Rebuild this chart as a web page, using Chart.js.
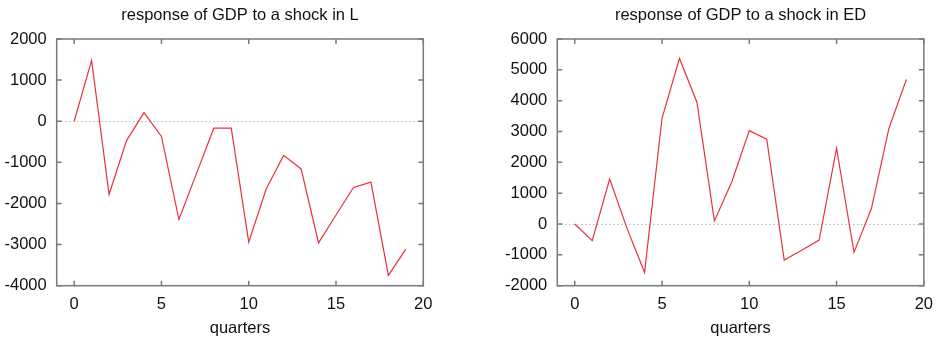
<!DOCTYPE html>
<html>
<head>
<meta charset="utf-8">
<script src="https://cdn.jsdelivr.net/npm/chart.js@4/dist/chart.umd.min.js"></script>
<style>
  html, body { margin: 0; padding: 0; background: #fff; overflow: hidden; }
  #c1 { position: absolute; left: 0; top: 0; }
  #c2 { position: absolute; left: 470px; top: 0; }
</style>
</head>
<body>
<canvas id="c1" width="470" height="339"></canvas>
<canvas id="c2" width="472" height="339"></canvas>
<script>
// ---- data ----
const quarters = [0,1,2,3,4,5,6,7,8,9,10,11,12,13,14,15,16,17,18,19];
const responseL = [0,1480,-1780,-470,210,-370,-2390,-1280,-170,-170,-2940,-1650,-830,-1160,-2960,-2280,-1610,-1480,-3750,-3110];
const responseED = [0,-540,1460,-150,-1570,3430,5370,3950,100,1370,3030,2750,-1170,-850,-520,2450,-920,510,3100,4690];
const xTicks = [0,5,10,15,20];
const yTicksL = [-4000,-3000,-2000,-1000,0,1000,2000];
const yTicksED = [-2000,-1000,0,1000,2000,3000,4000,5000,6000];
const titleL = 'response of GDP to a shock in L';
const titleED = 'response of GDP to a shock in ED';
const xTitle = 'quarters';

const FONT = "'Liberation Sans', Arial, Helvetica, sans-serif";
const FS = 16.5;
const FRAME = '#7a7a7a';
const RED = '#e8323c';

const framePlugin = {
  id: 'frame',
  afterDatasetsDraw(chart) {
    const {ctx, chartArea: a, scales} = chart;
    ctx.save();
    ctx.strokeStyle = FRAME;
    ctx.lineWidth = 1.5;
    const tl = 5;
    ctx.beginPath();
    scales.x.ticks.forEach(t => {
      const px = scales.x.getPixelForValue(t.value);
      ctx.moveTo(px, a.bottom); ctx.lineTo(px, a.bottom - tl);
      ctx.moveTo(px, a.top); ctx.lineTo(px, a.top + tl);
    });
    scales.y.ticks.forEach(t => {
      const py = scales.y.getPixelForValue(t.value);
      ctx.moveTo(a.left, py); ctx.lineTo(a.left + tl, py);
      ctx.moveTo(a.right, py); ctx.lineTo(a.right - tl, py);
    });
    ctx.stroke();
    ctx.strokeRect(a.left, a.top, a.right - a.left, a.bottom - a.top);
    ctx.restore();
  }
};

function makeChart(id, values, yTicks, title, yWidth, padRight) {
  new Chart(document.getElementById(id), {
    type: 'line',
    data: {
      datasets: [{
        data: quarters.map((q, i) => ({x: q, y: values[i]})),
        borderColor: RED,
        borderWidth: 1.2,
        pointRadius: 0,
        tension: 0,
        fill: false
      }]
    },
    options: {
      responsive: false,
      animation: false,
      layout: { padding: { left: 0, right: padRight, top: 0, bottom: 0 } },
      plugins: {
        legend: { display: false },
        tooltip: { enabled: false },
        title: {
          display: true,
          text: title,
          fullSize: false,
          color: '#111',
          font: { family: FONT, size: FS, weight: 'normal', lineHeight: 1.2 },
          padding: { top: 5.6, bottom: 13.6 }
        }
      },
      scales: {
        x: {
          type: 'linear',
          min: -1,
          max: 20,
          afterBuildTicks: s => { s.ticks = xTicks.map(v => ({value: v})); },
          afterFit: s => { s.height = 53.3; },
          grid: { display: false, drawTicks: false },
          border: { display: false },
          ticks: { color: '#111', padding: 9, maxRotation: 0, font: { family: FONT, size: FS },
                   callback: v => String(v) },
          title: {
            display: true, text: xTitle, color: '#111',
            font: { family: FONT, size: FS, lineHeight: 1.2 },
            padding: { top: 0, bottom: 1 }
          }
        },
        y: {
          type: 'linear',
          min: yTicks[0],
          max: yTicks[yTicks.length - 1],
          afterBuildTicks: s => { s.ticks = yTicks.map(v => ({value: v})); },
          afterFit: s => { s.width = yWidth; },
          grid: {
            drawTicks: false,
            lineWidth: 1,
            color: c => (c.tick && c.tick.value === 0) ? '#b8b8b8' : 'rgba(0,0,0,0)'
          },
          border: { display: false, dash: [1.5, 2.5] },
          ticks: { color: '#111', padding: 10, font: { family: FONT, size: FS },
                   callback: v => String(v) }
        }
      }
    },
    plugins: [framePlugin]
  });
}

makeChart('c1', responseL, yTicksL, titleL, 56.7, 46.7);
makeChart('c2', responseED, yTicksED, titleED, 87.3, 17.7);
</script>
</body>
</html>
